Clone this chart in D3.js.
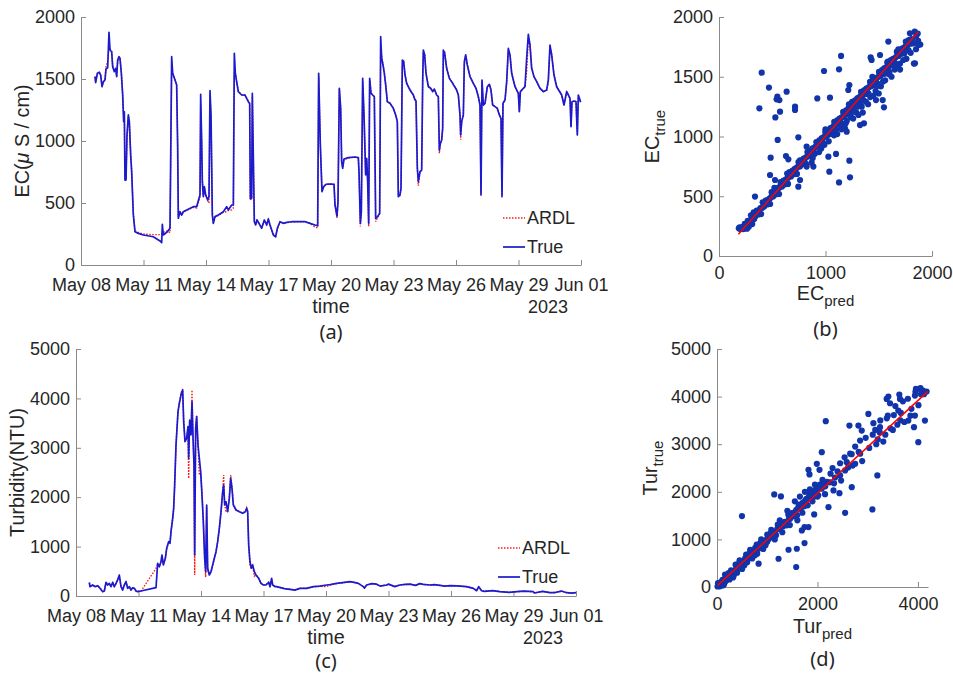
<!DOCTYPE html>
<html>
<head>
<meta charset="utf-8">
<script src="https://cdn.jsdelivr.net/npm/d3@7"></script>
<style>
  body { margin: 0; background: #fff; }
  svg { display: block; }
</style>
</head>
<body>
<script>
//tick labels for the time axes
var timeTicks = ["2023-05-08", "2023-05-11", "2023-05-14", "2023-05-17", "2023-05-20", "2023-05-23", "2023-05-26", "2023-05-29", "2023-06-01"];
var ecTicks = [0, 500, 1000, 1500, 2000];
var turTicks = [0, 1000, 2000, 3000, 4000, 5000];
var ecScatterXTicks = [0, 1000, 2000];
var turScatterXTicks = [0, 2000, 4000];

//EC series, time in days after May 08 00:00
var ecDays = [0.672,0.704,0.784,0.88,0.944,1.008,1.072,1.152,1.2,1.28,1.344,1.392,1.472,1.52,1.6,1.664,1.712,1.76,1.824,1.872,1.936,2.0,2.048,2.08,2.112,2.16,2.208,2.272,2.32,2.384,2.432,2.512,2.592,2.752,2.992,3.472,3.792,3.872,3.904,3.952,4.144,4.272,4.352,4.4,4.512,4.592,4.64,4.672,4.752,4.832,4.912,5.072,5.392,5.552,5.664,5.712,5.744,5.792,5.824,5.872,5.92,5.984,6.08,6.144,6.192,6.24,6.304,6.352,6.432,6.592,6.832,6.992,7.072,7.232,7.312,7.36,7.408,7.472,7.552,7.712,7.872,8.032,8.096,8.128,8.192,8.224,8.272,8.32,8.384,8.448,8.544,8.672,8.8,8.912,8.992,9.072,9.232,9.344,9.424,9.552,9.712,9.872,10.112,10.432,10.752,10.992,11.232,11.36,11.408,11.488,11.568,11.648,11.76,11.952,12.144,12.192,12.288,12.336,12.4,12.464,12.512,12.56,12.624,12.832,13.152,13.312,13.344,13.408,13.456,13.52,13.584,13.664,13.712,13.76,13.808,13.856,13.92,14.0,14.08,14.144,14.24,14.336,14.384,14.432,14.496,14.56,14.624,14.704,14.832,14.992,15.104,15.184,15.232,15.312,15.36,15.424,15.488,15.552,15.632,15.792,15.952,16.032,16.08,16.144,16.192,16.272,16.352,16.4,16.432,16.496,16.56,16.672,16.784,16.88,16.96,17.072,17.152,17.2,17.248,17.312,17.36,17.392,17.456,17.552,17.68,17.84,18.032,18.112,18.192,18.224,18.272,18.352,18.4,18.464,18.544,18.672,18.832,18.96,19.072,19.152,19.2,19.248,19.312,19.392,19.504,19.6,19.68,19.76,19.872,19.984,20.08,20.16,20.208,20.256,20.352,20.432,20.512,20.592,20.672,20.832,20.992,21.04,21.088,21.232,21.312,21.392,21.472,21.552,21.632,21.744,21.872,22.032,22.192,22.352,22.432,22.512,22.592,22.704,22.832,23.072,23.184,23.312,23.392,23.472,23.52,23.568,23.664,23.76,23.824,23.872,23.952,23.98];
var ecTrue = [1519,1470,1546,1554,1532,1438,1478,1492,1581,1591,1876,1734,1720,1599,1559,1586,1519,1653,1680,1667,1546,1371,1156,1236,685,685,1048,1210,1156,887,752,403,268,255,242,228,194,180,328,242,268,296,1680,1546,1492,1452,941,377,430,403,430,444,470,470,538,565,1376,994,672,551,632,565,524,551,1406,1210,403,336,390,403,430,470,444,484,484,1707,1546,1478,1398,1371,1370,1317,1304,538,538,1384,860,349,323,363,336,296,363,323,371,323,242,228,296,349,336,344,349,349,349,336,323,317,1546,968,591,632,651,653,651,484,395,511,1425,1263,833,780,855,866,871,866,753,336,430,1505,1210,726,860,672,336,1505,1384,1371,1357,376,390,417,1841,1667,1613,1546,1452,1317,1304,1263,1210,1156,551,565,618,1653,1640,1532,1465,1411,1371,1331,1323,780,672,753,766,1478,1734,1694,1546,1438,1425,1398,1419,1371,1357,927,981,1008,1102,1734,1707,1586,1505,1465,1411,1371,1210,1048,1156,1210,1640,1694,1613,1519,1465,1425,1357,1290,565,1492,1290,1304,1438,1457,1411,1290,1277,1263,1210,1183,551,1304,1331,1478,1747,1694,1546,1438,1384,1236,1398,1425,1438,1667,1860,1774,1586,1519,1478,1425,1398,1411,1492,1774,1694,1532,1438,1371,1290,1398,1371,1344,1115,1317,1323,1317,1048,1371,1331,1313];
var ecArdl = [1519,1480,1540,1554,1535,1445,1470,1500,1600,1640,1750,1745,1722,1610,1562,1580,1525,1640,1675,1668,1560,1380,1180,1220,700,690,1030,1200,1160,900,760,420,275,262,250,245,245,250,260,265,275,260,1560,1550,1495,1455,960,390,425,405,428,440,465,460,520,550,1300,1000,690,560,625,570,520,500,1330,1220,420,340,385,400,425,430,440,445,460,1560,1550,1480,1400,1372,1372,1320,1300,520,545,1360,870,355,325,360,338,300,360,325,368,325,250,232,290,348,338,342,346,348,350,338,305,300,1520,975,600,630,650,655,650,490,380,505,1420,1270,840,785,850,862,870,862,760,310,420,1480,1215,735,855,680,310,1490,1390,1370,1360,350,385,415,1700,1690,1620,1550,1460,1320,1305,1265,1212,1160,560,560,610,1600,1650,1540,1470,1415,1372,1335,1325,790,640,750,765,1460,1720,1700,1550,1440,1428,1400,1415,1372,1358,900,975,1005,1100,1700,1712,1590,1508,1466,1412,1372,1215,1010,1150,1212,1620,1690,1615,1520,1466,1426,1358,1292,575,1480,1295,1305,1430,1455,1412,1292,1278,1265,1212,1185,560,1300,1330,1470,1730,1700,1550,1440,1385,1240,1395,1424,1440,1560,1830,1780,1590,1520,1480,1426,1400,1410,1480,1760,1700,1535,1440,1372,1292,1395,1372,1345,1120,1315,1322,1318,1055,1368,1330,1313];

//Turbidity series, time in days after May 08 00:00
var turDays = [0.64,0.672,0.8,0.928,1.04,1.152,1.28,1.36,1.44,1.52,1.6,1.68,1.76,1.84,1.92,2.0,2.08,2.16,2.24,2.32,2.4,2.48,2.56,2.64,2.72,2.8,2.88,2.96,3.12,3.84,3.92,4.0,4.08,4.128,4.192,4.288,4.352,4.448,4.512,4.56,4.64,4.688,4.736,4.8,4.848,4.896,4.96,5.008,5.056,5.12,5.168,5.232,5.312,5.376,5.408,5.456,5.52,5.568,5.616,5.664,5.696,5.744,5.792,5.856,5.92,5.984,6.048,6.112,6.176,6.224,6.272,6.32,6.4,6.48,6.56,6.64,6.72,6.8,6.88,6.96,7.04,7.088,7.136,7.2,7.28,7.36,7.424,7.488,7.552,7.68,7.84,8.0,8.128,8.192,8.24,8.288,8.352,8.416,8.48,8.56,8.64,8.768,8.88,8.992,9.12,9.248,9.312,9.39,9.44,9.568,9.63,10.0,10.27,10.5,10.75,11.07,11.39,11.7,12.03,12.2,12.51,12.8,13.15,13.3,13.55,13.79,13.85,13.95,14.2,14.43,14.6,14.91,15.0,15.3,15.55,15.8,16.03,16.3,16.5,16.67,16.99,17.2,17.47,17.7,17.95,18.3,18.75,19.07,19.23,19.33,19.47,19.6,20.0,20.35,20.8,21.15,21.5,21.95,22.0,22.4,22.75,23.0,23.3,23.55,23.8,24.0];
var turTrue = [277,188,223,188,209,156,87,101,277,223,256,188,277,188,256,324,425,188,121,223,290,156,188,121,168,156,101,87,101,168,662,593,694,830,628,763,965,1100,1066,1302,1573,1775,2247,3057,3395,3731,3901,4002,4103,4170,3529,3124,3192,3428,2787,3563,3259,3934,3225,2652,830,3395,3630,3057,2787,2517,2045,1504,763,492,1842,561,425,492,628,763,897,1100,1370,1706,2111,2247,1842,1909,1706,1977,2382,2180,1842,1741,1706,1674,1706,1775,1706,1032,694,561,628,492,425,358,256,223,223,277,188,357,223,188,189,150,135,120,155,155,189,200,223,230,256,270,290,280,256,189,160,223,250,240,200,223,240,190,223,235,240,215,250,236,223,230,216,200,209,205,189,155,107,189,107,95,110,87,75,87,100,87,60,95,67,70,100,67,60,67];
var turArdl = [260,200,215,195,205,160,95,110,260,230,250,195,265,195,250,330,400,200,130,215,280,165,185,130,165,150,105,95,100,560,640,600,680,810,640,760,950,1080,1080,1290,1560,1760,2230,3030,3380,3720,3920,4020,4120,4190,3560,3150,3180,3400,2380,3540,3280,4170,3250,2620,425,3380,3660,3080,2450,2500,2060,1520,780,380,1800,520,430,480,620,760,890,1090,1360,1690,2100,2450,1860,1700,1720,1990,2450,2200,1860,1750,1710,1680,1710,1790,1720,1050,600,570,620,400,430,360,260,230,228,280,190,350,225,190,190,152,138,122,158,158,185,195,190,225,250,268,285,278,255,192,170,220,248,238,205,222,238,195,224,232,238,218,245,235,222,228,215,202,208,204,188,158,110,180,110,97,108,88,77,88,98,88,62,93,68,71,98,68,62,68];

//scatter of EC, [predicted, true]
var ecScatter = [[186,232],[200,225],[214,228],[228,225],[242,270],[256,246],[270,295],[284,264],[298,303],[312,267],[326,366],[340,330],[354,379],[368,348],[382,387],[396,351],[410,450],[424,414],[438,463],[452,432],[466,471],[480,435],[494,534],[508,498],[522,547],[536,516],[550,555],[564,519],[578,618],[592,582],[606,631],[620,600],[634,639],[648,603],[662,702],[676,666],[690,715],[704,684],[718,723],[732,687],[746,786],[760,750],[774,799],[788,768],[802,807],[816,771],[830,870],[844,834],[858,883],[872,852],[886,891],[900,855],[914,954],[928,918],[942,967],[956,936],[970,975],[984,939],[998,1038],[1012,1002],[1026,1051],[1040,1020],[1054,1059],[1068,1023],[1082,1122],[1096,1086],[1110,1135],[1124,1104],[1138,1143],[1152,1107],[1166,1206],[1180,1170],[1194,1219],[1208,1188],[1222,1227],[1236,1191],[1250,1290],[1264,1254],[1278,1303],[1292,1272],[1306,1311],[1320,1275],[1334,1374],[1348,1338],[1362,1387],[1376,1356],[1390,1395],[1404,1359],[1418,1458],[1432,1422],[1446,1471],[1460,1440],[1474,1479],[1488,1443],[1502,1542],[1516,1506],[1530,1555],[1544,1524],[1558,1563],[1572,1527],[1586,1626],[1600,1590],[1614,1639],[1628,1608],[1642,1647],[1656,1611],[1670,1710],[1684,1674],[1698,1723],[1712,1692],[1726,1731],[1740,1695],[1754,1794],[1768,1758],[1782,1807],[1796,1776],[1810,1815],[1824,1779],[1838,1878],[1852,1842],[1866,1862],
  [193,240],[207,235],[221,244],[235,230],[249,255],[263,228],[277,262],[291,285],[305,295],[319,318],[333,340],[347,352],[361,360],[375,372],[389,400],[403,402],[417,420],[431,440],[445,445],[459,470],[473,478],[487,490],[501,515],[515,520],[529,530],[543,550],[557,570],[571,575],[585,590],[599,610],[613,615],[627,640],[641,650],[655,660],[669,685],[683,690],[697,700],[711,730],[725,735],[739,745],[753,770],[767,775],[781,790],[795,815],[809,820],[823,830],[837,855],[851,860],[865,870],[879,900],[893,905],[907,915],[921,940],[935,945],[949,955],[963,985],[977,990],[991,1000],[1005,1025],[1019,1030],[1033,1040],[1047,1070],[1061,1075],[1075,1085],[1089,1110],[1103,1115],[1117,1125],[1131,1150],[1145,1155],[1159,1165],[1173,1195],[1187,1200],[1201,1210],[1215,1235],[1229,1240],[1243,1250],[1257,1280],[1271,1285],[1285,1295],[1299,1320],[1313,1325],[1327,1335],[1341,1360],[1355,1365],[1369,1375],[1383,1400],[1397,1405],[1411,1415],[1425,1445],[1439,1450],[1453,1460],[1467,1485],[1481,1490],[1495,1500],[1509,1530],[1523,1535],[1537,1545],[1551,1570],[1565,1575],[1579,1585],[1593,1610],[1607,1615],[1621,1625],[1635,1650],[1649,1655],[1663,1665],[1677,1690],[1691,1700],[1705,1710],[1719,1735],[1733,1740],[1747,1750],[1761,1775],[1775,1780],[1789,1790],[1803,1810],[1817,1805],
  [1080,1010],[1150,1060],[1190,1110],[1240,1160],[1290,1200],[1340,1250],[1380,1290],[1420,1330],[1470,1380],[1520,1420],[1560,1470],[1600,1520],[1650,1560],[1700,1610],[1760,1650],[1800,1700],[1850,1730],[880,820],[940,870],[990,930],[1110,1020],[1260,1150],[1310,1180],[1450,1340],[1500,1360],[1620,1500],[1680,1580],[1730,1640],[1580,1620],[1440,1500],[1220,1270],[1000,1060],[760,800],[640,690],[520,570],[300,340],[330,310],[280,245],[250,270],
  [960,900],[1030,960],[1160,1090],[1270,1210],[1360,1300],[1400,1270],[1540,1460],[1650,1590],[1720,1700],[1780,1720],[1870,1800],[1890,1770],[1830,1610],[1700,1560],[1600,1540],[1480,1420],[1350,1200],[1300,1250],[1200,1130],[1100,1060],
  [401,1534],[469,1409],[379,1236],[548,1333],[541,1311],[567,1305],[529,1160],[573,1208],[635,1375],[714,1250],[714,1222],[551,971],[485,823],[629,837],[651,809],[745,993],[823,915],[923,1319],[986,1548],[1042,1325],[1127,1562],[1146,1674],[1027,831],[1036,706],[1099,854],[1127,616],[1224,798],[1230,658],[1224,1431],[1214,1389],[1199,1040],[1183,1068],[1361,1110],[1324,1096],[1537,1305],[1474,1305],[1549,1244],[1590,1794],[1512,1682],[1433,1640],[1424,1662],[1684,1729],[1840,1612],[1872,1766],[1793,1863],[761,636],[745,580],[823,748],[886,748],[573,580],[526,636],[479,678],[338,497],[870,781]];
var ecFitX = [182, 1872];
var ecFitY = [181, 1877];

//scatter of turbidity, [predicted, true]
var turScatter = [[20,80],[55,15],[90,110],[125,35],[160,260],[195,175],[230,290],[265,225],[300,320],[335,245],[370,470],[405,385],[440,500],[475,435],[510,530],[545,455],[580,680],[615,595],[650,710],[685,645],[720,740],[755,665],[790,890],[825,805],[860,920],[895,855],[930,950],[965,875],[1000,1100],[1035,1015],[1070,1130],[1105,1065],[1140,1160],[1175,1085],[1210,1310],[1245,1225],[1280,1340],[1315,1275],[1350,1370],[1385,1295],[1420,1520],[1455,1435],[1490,1550],[1525,1485],[1560,1580],[1595,1505],[1630,1730],[1665,1645],[1700,1760],[1735,1695],[1770,1790],[1805,1715],[1840,1940],[1875,1855],[1910,1970],[1945,1905],[1980,2000],[2015,1925],[2050,2150],[2085,2065],[2120,2180],[2155,2115],[2190,2210],
  [2260,2380],[2330,2178],[2400,2427],[2470,2235],[2540,2724],[2610,2512],[2680,2790],[2750,2589],[2820,2837],[2890,2646],[2960,3134],[3030,2922],[3100,3201],[3170,2999],[3240,3247],[3310,3056],[3380,3544],[3450,3333],[3520,3611],[3590,3409],[3660,3658],[3730,3466],[3800,3955],[3870,3743],[3940,4021],[4010,3820],[4060,4049],[4100,4128],
  [30,40],[60,90],[80,30],[110,150],[140,60],[170,120],[200,230],[250,160],[280,350],[320,200],[360,310],[400,300],[450,560],[500,380],[560,600],[600,520],[660,780],[700,600],[760,820],[800,700],[880,1000],[920,800],[1000,950],[1080,1200],[1150,1000],[1250,1400],[1300,1150],[1400,1600],[1450,1300],[1550,1800],[1600,1400],[1650,1900],[1700,1560],[1750,2000],[1780,1850],[1850,2050],[1900,1800],[1950,2150],[2000,1900],[2100,2250],[2150,1950],[2250,2200],[2300,2500],[2350,2300],[2450,2600],[2550,2450],[2650,2800],[2700,2550],[2750,2950],[2850,2800],[3150,3300],[3200,3100],[3250,3500],[3350,3200],[3400,3600],[3500,3300],[3550,3800],[3650,3500],[3700,3900],[3850,3600],[3950,4100],[4050,4180],[4120,4050],
  [10,10],[45,60],[75,50],[100,100],[130,110],[150,170],[185,140],[210,200],[240,240],[270,260],[290,280],[310,330],[345,320],[380,380],[420,400],[460,470],[490,480],[530,540],[570,560],[610,620],[640,650],[680,690],[710,700],[740,760],[780,770],[820,830],[850,860],[890,880],[940,950],[980,990],[1020,1020],[1060,1070],[1100,1100],[1160,1140],[1200,1220],[1260,1250],[1320,1330],[1370,1360],[1430,1420],[1480,1490],[1520,1560],[1580,1620],[1620,1680],[1680,1720],[1720,1780],[1760,1820],[1820,1880],[1880,1920],[1920,2000],[1970,2050],[2030,2080],[2080,2120],[2130,2200],
  [497,1490],[2165,3483],[2086,2832],[2550,1559],[3093,1629],[3192,2343],[4139,3497],[2682,2098],[2815,3392],[2636,3392],[2881,3287],[1589,804],[1576,420],[1742,923],[1225,594],[828,490],[1424,783],[1139,1944],[1272,1902],[1821,2462],[1841,2364],[1934,1524],[2219,1678],[4007,3042],[3609,3706],[3629,4042],[3642,3951],[3808,3497],[3921,3357],[3940,3601],[3960,4161],[4040,4161],[4172,4105],[3377,3951],[3411,4000],[3444,3860],[3113,3441],[3245,3357],[3013,3636],[2848,3077],[2583,2622],[2450,2343],[2318,2028],[1987,2587],[2040,2462],[1742,1259],[1821,1259],[1689,1189],[1954,1958],[2437,1972]];
var turFitX = [13, 4192];
var turFitY = [35, 4105];

//styles
var fontMain = "'Liberation Sans', Arial, Helvetica, sans-serif";
var fontCaption = "'Noto Sans', 'Open Sans', sans-serif";
var axisColor = "#8a8a8a";
var textColor = "#262626";
var trueColor = "#1a1acf";
var ardlColor = "#ff1a1a";
var dotColor = "#1234aa";
var tickFont = 18;
var labelFont = 19.8;

var svg = d3.select("body").append("svg")
    .attr("width", 953)
    .attr("height", 677);

var parseDay = d3.timeParse("%Y-%m-%d");
var startDate = parseDay(timeTicks[0]);
function dayToDate(d) { return new Date(startDate.getTime() + d * 864e5); }

//makes the axis look like the matlab one
function styleAxis(g) {
    g.attr("font-family", null).attr("font-size", null);
    g.select(".domain").attr("stroke", axisColor).attr("stroke-width", 1);
    g.selectAll(".tick line").attr("stroke", axisColor);
    g.selectAll(".tick text")
        .attr("fill", textColor)
        .attr("font-family", fontMain)
        .attr("font-size", tickFont);
}

//time series panel
function drawTimePanel(p) {
    var x = d3.scaleTime()
        .domain([startDate, parseDay(timeTicks[timeTicks.length - 1])])
        .range([p.left, p.right]);
    var y = d3.scaleLinear().domain([0, p.ymax]).range([p.bottom, p.top]);

    var xAxis = svg.append("g")
        .attr("transform", "translate(0," + p.bottom + ")")
        .call(d3.axisBottom(x)
            .tickValues(timeTicks.map(parseDay))
            .tickFormat(d3.timeFormat("%b %d"))
            .tickSizeInner(-5).tickSizeOuter(0).tickPadding(13));
    styleAxis(xAxis);

    var yAxis = svg.append("g")
        .attr("transform", "translate(" + p.left + ",0)")
        .call(d3.axisLeft(y).tickValues(p.yticks).tickFormat(d3.format("d"))
            .tickSizeInner(-5).tickSizeOuter(0).tickPadding(6));
    styleAxis(yAxis);

    var line = d3.line()
        .x(function (d) { return x(dayToDate(d[0])); })
        .y(function (d) { return y(d[1]); });

    svg.append("path")
        .datum(d3.zip(p.days, p.ardl))
        .attr("d", line)
        .attr("fill", "none")
        .attr("stroke", ardlColor)
        .attr("stroke-width", 1.4)
        .attr("stroke-dasharray", "1.5,1.5");

    svg.append("path")
        .datum(d3.zip(p.days, p.obs))
        .attr("d", line)
        .attr("fill", "none")
        .attr("stroke", trueColor)
        .attr("stroke-width", 1.7)
        .attr("stroke-linejoin", "round");

    //legend, no box
    var lg = svg.append("g");
    lg.append("line").attr("x1", p.legX).attr("x2", p.legX + 22)
        .attr("y1", p.legY).attr("y2", p.legY)
        .attr("stroke", ardlColor).attr("stroke-width", 1.4).attr("stroke-dasharray", "1.5,1.5");
    lg.append("line").attr("x1", p.legX).attr("x2", p.legX + 22)
        .attr("y1", p.legY + 29).attr("y2", p.legY + 29)
        .attr("stroke", trueColor).attr("stroke-width", 1.7);
    lg.selectAll("text").data(["ARDL", "True"]).enter().append("text")
        .attr("x", p.legX + 24)
        .attr("y", function (d, i) { return p.legY + i * 29; })
        .attr("dy", "0.35em")
        .attr("font-family", fontMain).attr("font-size", tickFont)
        .attr("fill", textColor)
        .text(function (d) { return d; });

    //axis labels
    var mid = (p.left + p.right) / 2;
    svg.append("text").attr("x", mid).attr("y", p.bottom + 48)
        .attr("text-anchor", "middle")
        .attr("font-family", fontMain).attr("font-size", labelFont).attr("fill", textColor)
        .text("time");
    svg.append("text").attr("x", p.right - 33).attr("y", p.bottom + 48)
        .attr("text-anchor", "middle")
        .attr("font-family", fontMain).attr("font-size", tickFont).attr("fill", textColor)
        .text("2023");
    var yl = svg.append("text")
        .attr("transform", "translate(" + p.ylabX + "," + ((p.top + p.bottom) / 2) + ") rotate(-90)")
        .attr("text-anchor", "middle").attr("dy", "0.35em")
        .attr("font-family", fontMain).attr("font-size", labelFont).attr("fill", textColor);
    p.ylabel(yl);

    svg.append("text").attr("x", mid).attr("y", p.capY)
        .attr("text-anchor", "middle").attr("dy", "0.35em")
        .attr("font-family", fontCaption).attr("font-size", 20).attr("fill", textColor)
        .text(p.caption);
}

//scatter panel
function drawScatterPanel(p) {
    var x = d3.scaleLinear().domain([0, p.xmax]).range([p.left, p.right]);
    var y = d3.scaleLinear().domain([0, p.ymax]).range([p.bottom, p.top]);

    var xAxis = svg.append("g")
        .attr("transform", "translate(0," + p.bottom + ")")
        .call(d3.axisBottom(x).tickValues(p.xticks).tickFormat(d3.format("d"))
            .tickSizeInner(-5).tickSizeOuter(0).tickPadding(10));
    styleAxis(xAxis);
    var yAxis = svg.append("g")
        .attr("transform", "translate(" + p.left + ",0)")
        .call(d3.axisLeft(y).tickValues(p.yticks).tickFormat(d3.format("d"))
            .tickSizeInner(-5).tickSizeOuter(0).tickPadding(6));
    styleAxis(yAxis);

    svg.append("g").selectAll("circle")
        .data(p.points)
        .enter()
        .append("circle")
        .attr("cx", function (d) { return x(d[0]); })
        .attr("cy", function (d) { return y(d[1]); })
        .attr("r", 3.1)
        .attr("fill", dotColor);

    svg.append("path")
        .datum(d3.zip(p.fitX, p.fitY))
        .attr("d", d3.line().x(function (d) { return x(d[0]); }).y(function (d) { return y(d[1]); }))
        .attr("stroke", "#ff0000").attr("stroke-width", 1.5).attr("fill", "none");

    var mid = (p.left + p.right) / 2;
    var xl = svg.append("text").attr("x", mid).attr("y", p.bottom + p.xlabOff)
        .attr("text-anchor", "middle")
        .attr("font-family", fontMain).attr("font-size", labelFont).attr("fill", textColor);
    xl.append("tspan").text(p.name);
    xl.append("tspan").attr("dy", 6).attr("font-size", 15).text("pred");

    var yl = svg.append("text")
        .attr("transform", "translate(" + p.ylabX + "," + ((p.top + p.bottom) / 2) + ") rotate(-90)")
        .attr("text-anchor", "middle").attr("dy", "0.35em")
        .attr("font-family", fontMain).attr("font-size", labelFont).attr("fill", textColor);
    yl.append("tspan").text(p.name);
    yl.append("tspan").attr("dy", 6).attr("font-size", 15).text("true");

    svg.append("text").attr("x", mid).attr("y", p.capY)
        .attr("text-anchor", "middle").attr("dy", "0.35em")
        .attr("font-family", fontCaption).attr("font-size", 20).attr("fill", textColor)
        .text(p.caption);
}

drawTimePanel({
    left: 81, right: 581, top: 17, bottom: 265, ymax: 2000, yticks: ecTicks,
    days: ecDays, obs: ecTrue, ardl: ecArdl,
    legX: 503, legY: 218, ylabX: 22, capY: 332, caption: "(a)",
    ylabel: function (t) {
        t.append("tspan").text("EC(");
        t.append("tspan").attr("font-style", "italic").text("\u03bc");
        t.append("tspan").text(" S / cm)");
    }
});

drawTimePanel({
    left: 76, right: 576, top: 349, bottom: 596, ymax: 5000, yticks: turTicks,
    days: turDays, obs: turTrue, ardl: turArdl,
    legX: 498, legY: 548, ylabX: 17, capY: 661, caption: "(c)",
    ylabel: function (t) { t.text("Turbidity(NTU)"); }
});

drawScatterPanel({
    left: 719, right: 932, top: 17, bottom: 256, xmax: 2000, ymax: 2000,
    xticks: ecScatterXTicks, yticks: ecTicks, points: ecScatter,
    fitX: ecFitX, fitY: ecFitY, name: "EC", ylabX: 652, xlabOff: 44, capY: 329, caption: "(b)"
});

drawScatterPanel({
    left: 717, right: 928, top: 349, bottom: 587, xmax: 4200, ymax: 5000,
    xticks: turScatterXTicks, yticks: turTicks, points: turScatter,
    fitX: turFitX, fitY: turFitY, name: "Tur", ylabX: 650, xlabOff: 46, capY: 659, caption: "(d)"
});
</script>
</body>
</html>
